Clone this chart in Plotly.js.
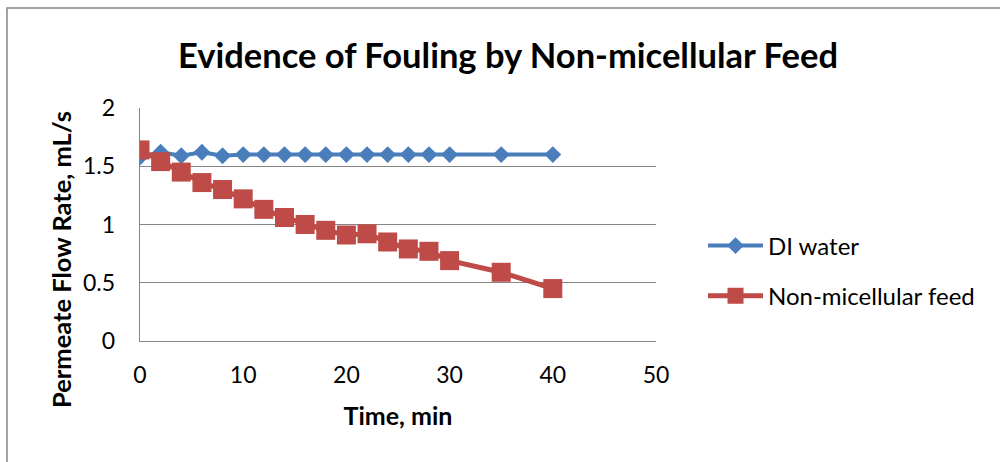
<!DOCTYPE html>
<html>
<head>
<meta charset="utf-8">
<script src="https://cdn.plot.ly/plotly-3.0.1.min.js"></script>
<style>
html,body{margin:0;padding:0;background:#fff;}
#chart{width:1000px;height:462px;}
</style>
</head>
<body>
<div id="chart"></div>
<script>
const timeMin = [0, 2, 4, 6, 8, 10, 12, 14, 16, 18, 20, 22, 24, 26, 28, 30, 35, 40];
const diWater = [1.58, 1.62, 1.59, 1.62, 1.59, 1.60, 1.60, 1.60, 1.60, 1.60, 1.60, 1.60, 1.60, 1.60, 1.60, 1.60, 1.60, 1.60];
const nonMicellular = [1.64, 1.54, 1.45, 1.36, 1.30, 1.22, 1.13, 1.06, 1.00, 0.95, 0.91, 0.92, 0.85, 0.79, 0.77, 0.69, 0.59, 0.45];
const seriesNames = ['DI water', 'Non-micellular feed'];
const chartTitle = 'Evidence of Fouling by Non-micellular Feed';
const xTitle = 'Time, min';
const yTitle = 'Permeate Flow Rate, mL/s';

const FONT = 'Lato, "Open Sans", sans-serif';
const L = 140, R = 656, T = 108, B = 341;

const traces = [
  {
    x: timeMin, y: diWater, name: seriesNames[0], legendgroup: 'g1', type: 'scatter', mode: 'lines+markers',
    line: {color: '#4A7EBB', width: 4},
    marker: {symbol: 'diamond', size: 13, color: '#4A7EBB'}
  },
  {
    x: timeMin, y: nonMicellular, name: seriesNames[1], legendgroup: 'g2', type: 'scatter', mode: 'lines+markers',
    line: {color: '#BE4B48', width: 5},
    marker: {symbol: 'square', size: 19, color: '#BE4B48'}
  }
];

const layout = {
  width: 1000, height: 462,
  margin: {l: L, r: 1000 - R, t: T, b: 462 - B, pad: 0},
  paper_bgcolor: '#ffffff', plot_bgcolor: '#ffffff',
  font: {family: FONT, color: '#000000', size: 23},
  title: {text: '<b>' + chartTitle + '</b>', font: {family: FONT, size: 34.5, color: '#000'}, x: 0.508, xanchor: 'center', y: 0.88, yanchor: 'middle'},
  showlegend: true,
  legend: {x: (703 - L) / (R - L), xanchor: 'left', y: (B - 271) / (B - T), yanchor: 'middle',
           font: {family: FONT, size: 24, color: '#000'}, traceorder: 'grouped', tracegroupgap: 16, itemwidth: 55,
           bgcolor: 'rgba(0,0,0,0)'},
  xaxis: {
    range: [0, 50], dtick: 10, tick0: 0, showgrid: false, zeroline: false,
    showline: true, linecolor: '#868686', linewidth: 1.3,
    ticks: '', ticklabelstandoff: 13, tickfont: {family: FONT, size: 23, color: '#000'},
    title: {text: '<b>' + xTitle + '</b>', font: {family: FONT, size: 25, color: '#000'}, standoff: 20},
    automargin: false, fixedrange: true
  },
  yaxis: {
    range: [0, 2], dtick: 0.5, tick0: 0, showgrid: true, gridcolor: '#868686', gridwidth: 1.3,
    zeroline: false, showline: true, linecolor: '#868686', linewidth: 1.3,
    ticks: '', ticklabelstandoff: 19, tickfont: {family: FONT, size: 23, color: '#000'},
    automargin: false, fixedrange: true
  },
  annotations: [
    {text: '<b>' + yTitle + '</b>', xref: 'paper', yref: 'paper',
     x: (61 - L) / (R - L), y: (B - 260) / (B - T), xanchor: 'center', yanchor: 'middle',
     textangle: -90, showarrow: false, font: {family: FONT, size: 25.5, color: '#000'}}
  ],
  shapes: [
    {type: 'rect', xref: 'paper', yref: 'paper',
     x0: (7 - L) / (R - L), x1: (1010 - L) / (R - L),
     y0: (B - 475) / (B - T), y1: (B - 8) / (B - T),
     line: {color: '#878787', width: 1.5}, fillcolor: 'rgba(0,0,0,0)', layer: 'below'}
  ]
};

Plotly.newPlot('chart', traces, layout, {staticPlot: true, displayModeBar: false});
</script>
</body>
</html>
